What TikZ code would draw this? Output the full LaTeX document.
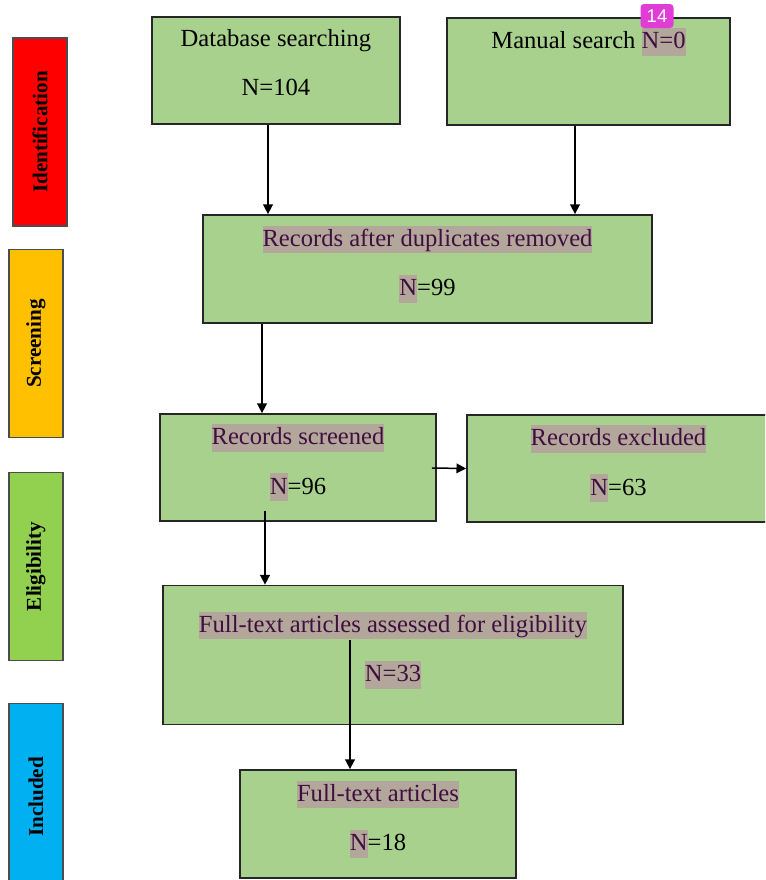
\documentclass[tikz,border=0pt]{standalone}
\usepackage{fontspec}
\setmainfont{Liberation Serif}
\newfontfamily\badgefont{Liberation Sans}
\usepackage{xcolor}
\usepackage{graphicx}
\usetikzlibrary{arrows.meta}

\definecolor{boxgreen}{HTML}{A9D18E}
\definecolor{markgray}{HTML}{B3A69A}
\definecolor{marktext}{HTML}{3F0F3F}
\definecolor{stagered}{HTML}{FF0000}
\definecolor{stageorange}{HTML}{FFC000}
\definecolor{stagegreen}{HTML}{92D050}
\definecolor{stageblue}{HTML}{00B0F0}
\definecolor{badgepink}{HTML}{E03CD6}

% highlighted text
\newcommand{\mk}[1]{{\setlength{\fboxsep}{0pt}\colorbox{markgray}{\color{marktext}\rule[-4pt]{0pt}{15.7pt}#1}}}

\begin{document}
\begin{tikzpicture}[
  x=0.02cm, y=-0.02cm,
  box/.style={rectangle, draw=black!85, line width=1pt, fill=boxgreen, align=center, inner sep=0pt, font=\fontsize{14}{28}\selectfont,
    execute at begin node={\rule[-4pt]{0pt}{15.7pt}}, execute at end node={\rule[-9.5pt]{0pt}{0pt}}},
  stage/.style={rectangle, draw=black!70, line width=0.6pt, minimum width=1.08cm, minimum height=3.76cm, inner sep=0pt, font=\bfseries\fontsize{12}{12}\selectfont},
  wire/.style={-{Triangle[length=5.5pt, width=5.5pt]}, line width=0.85pt},
  badge/.style={rectangle, rounded corners=2pt, fill=badgepink, text=white, minimum width=0.66cm, minimum height=0.48cm, inner sep=0pt, font=\badgefont\fontsize{10.5}{12}\selectfont}
]

% Page frame
\useasboundingbox (0,0) rectangle (765,880);
\clip (0,0) rectangle (765,880);

% Stages on the left
\node[stage, fill=stagered] (ident) at (40,132) {\rotatebox{90}{Identification}};
\node[stage, fill=stageorange] (screen) at (36,343.5) {\rotatebox{90}{Screening}};
\node[stage, fill=stagegreen] (elig) at (36,566.5) {\rotatebox{90}{Eligibility}};
\node[stage, fill=stageblue] (incl) at (36,797) {\rotatebox{90}{Included}};

% Sources
\node[box, minimum width=4.96cm, minimum height=2.14cm] (dbsearch) at (276,70.5) {Database searching\\N=104};
\node[box, minimum width=5.66cm, minimum height=2.14cm] (manual) at (588.5,71.5) {Manual search \mk{N=0}\\\phantom{N}};

% Screening steps
\node[box, minimum width=8.98cm, minimum height=2.16cm] (dedup) at (427.5,269) {\mk{Records after duplicates removed}\\\mk{N}=99};
\node[box, minimum width=5.52cm, minimum height=2.14cm] (screened) at (298,467.5) {\mk{Records screened}\\\mk{N}=96};
\node[box, minimum width=6.06cm, minimum height=2.14cm] (excluded) at (618.5,468.5) {\mk{Records excluded}\\\mk{N}=63};

% Eligibility and result
\node[box, minimum width=9.2cm, minimum height=2.78cm] (assessed) at (393,655) {\mk{Full-text articles assessed for eligibility}\\\mk{N=33}};
\node[box, minimum width=5.52cm, minimum height=2.16cm] (included) at (378,824) {\mk{Full-text articles}\\\mk{N}=18};

% Wires
\coordinate (sc-side) at (432,468);
\coordinate (sc-down) at (265,511);
\coordinate (fa-down) at (350,640);
\draw[wire] (dbsearch.south -| 268,0) -- (dedup.north -| 268,0);
\draw[wire] (manual.south -| 575,0) -- (dedup.north -| 575,0);
\draw[wire] (dedup.south -| 262,0) -- (screened.north -| 262,0);
\draw[wire] (sc-side) -- (excluded.west);
\draw[wire] (sc-down) -- (assessed.north -| sc-down);
\draw[wire] (fa-down) -- (included.north -| fa-down);

% Comment marker
\node[badge] (note) at (657,16) {14};

\end{tikzpicture}
\end{document}
